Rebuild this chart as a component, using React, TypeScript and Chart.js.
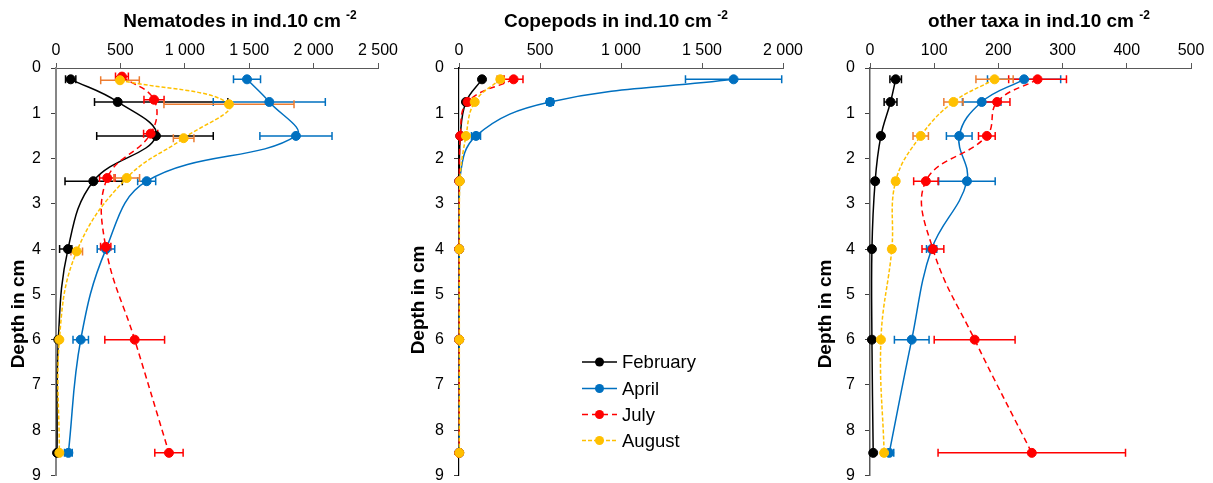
import React, { useEffect, useRef } from "react";
import { Chart, registerables } from "chart.js";

Chart.register(...registerables);

const FONT = "'Liberation Sans', Arial, Helvetica, sans-serif";

// Sampling depths in cm (layer mid-points)
const depths = [0.25, 0.75, 1.5, 2.5, 4, 6, 8.5];
const months = ["February", "April", "July", "August"];

// Nematodes (ind. 10 cm^-2); July and August are drawn slightly offset in depth
const nemDepthsJuly = [0.19, 0.7, 1.45, 2.43, 3.95, 6, 8.5];
const nemDepthsAugust = [0.27, 0.8, 1.55, 2.43, 4.05, 6, 8.5];
const nemFebruary = [114, 479, 776, 290, 93, 18, 8];
const nemFebruaryErrLow = [40, 180, 460, 220, 65, 0, 0];
const nemFebruaryErrHigh = [40, 855, 445, 225, 30, 0, 0];
const nemApril = [1483, 1656, 1863, 704, 388, 192, 96];
const nemAprilErr = [105, 435, 280, 70, 68, 60, 30];
const nemJuly = [512, 761, 735, 398, 386, 611, 877];
const nemJulyErr = [50, 78, 55, 60, 40, 232, 110];
const nemAugust = [497, 1343, 991, 549, 161, 26, 26];
const nemAugustErr = [150, 505, 80, 100, 45, 0, 0];

// Copepods (ind. 10 cm^-2)
const copFebruary = [142, 43, 8, 2, 1, 1, 1];
const copFebruaryErr = [0, 0, 0, 0, 0, 0, 0];
const copApril = [1695, 562, 105, 3, 1, 1, 1];
const copAprilErr = [297, 20, 28, 0, 0, 0, 0];
const copJuly = [337, 53, 8, 2, 1, 1, 1];
const copJulyErr = [58, 12, 0, 0, 0, 0, 0];
const copAugust = [255, 97, 43, 5, 2, 2, 2];
const copAugustErr = [20, 10, 8, 0, 0, 0, 0];

// Other taxa (ind. 10 cm^-2)
const othFebruary = [40, 32, 17, 8, 3, 3, 5];
const othFebruaryErr = [9, 10, 0, 0, 0, 0, 0];
const othApril = [240, 174, 139, 151, 96, 65, 30];
const othAprilErr = [57, 30, 20, 44, 8, 27, 7];
const othJuly = [261, 198, 182, 87, 98, 163, 252];
const othJulyErr = [45, 20, 13, 19, 17, 63, 146];
const othAugust = [194, 130, 79, 40, 34, 17, 22];
const othAugustErr = [29, 15, 12, 4, 4, 0, 4];

const seriesStyles = [
  { color: "#000000", bar: "#000000", dash: [] as number[] },
  { color: "#0070C0", bar: "#0070C0", dash: [] as number[] },
  { color: "#FF0000", bar: "#FF0000", dash: [6, 4] },
  { color: "#FFC000", bar: "#ED7D31", dash: [4, 2] },
];

type Series = { y: number[]; x: number[]; lo: number[]; hi: number[] };

type PanelSpec = {
  title: string;
  left: number;
  width: number;
  axisLeft: number;
  padRight: number;
  xMax: number;
  xStep: number;
  titleCenter: number;
  depthLabel: [number, number];
  yBorder: string;
  yBorderWidth: number;
  legend: boolean;
  series: Series[];
};

const panels: PanelSpec[] = [
  {
    title: "Nematodes in ind.10 cm",
    left: 0,
    width: 400,
    axisLeft: 56,
    padRight: 22,
    xMax: 2500,
    xStep: 500,
    titleCenter: 240,
    depthLabel: [19, 314],
    yBorder: "#868686",
    yBorderWidth: 2,
    legend: false,
    series: [
      { y: depths, x: nemFebruary, lo: nemFebruaryErrLow, hi: nemFebruaryErrHigh },
      { y: depths, x: nemApril, lo: nemAprilErr, hi: nemAprilErr },
      { y: nemDepthsJuly, x: nemJuly, lo: nemJulyErr, hi: nemJulyErr },
      { y: nemDepthsAugust, x: nemAugust, lo: nemAugustErr, hi: nemAugustErr },
    ],
  },
  {
    title: "Copepods in ind.10 cm",
    left: 400,
    width: 410,
    axisLeft: 59,
    padRight: 27,
    xMax: 2000,
    xStep: 500,
    titleCenter: 216,
    depthLabel: [19, 300],
    yBorder: "#000000",
    yBorderWidth: 1.2,
    legend: true,
    series: [
      { y: depths, x: copFebruary, lo: copFebruaryErr, hi: copFebruaryErr },
      { y: depths, x: copApril, lo: copAprilErr, hi: copAprilErr },
      { y: depths, x: copJuly, lo: copJulyErr, hi: copJulyErr },
      { y: depths, x: copAugust, lo: copAugustErr, hi: copAugustErr },
    ],
  },
  {
    title: "other taxa in ind.10 cm",
    left: 810,
    width: 403,
    axisLeft: 60,
    padRight: 22,
    xMax: 500,
    xStep: 100,
    titleCenter: 229,
    depthLabel: [16, 314],
    yBorder: "#595959",
    yBorderWidth: 1.5,
    legend: false,
    series: [
      { y: depths, x: othFebruary, lo: othFebruaryErr, hi: othFebruaryErr },
      { y: depths, x: othApril, lo: othAprilErr, hi: othAprilErr },
      { y: depths, x: othJuly, lo: othJulyErr, hi: othJulyErr },
      { y: depths, x: othAugust, lo: othAugustErr, hi: othAugustErr },
    ],
  },
];

const formatThousands = (v: number) =>
  String(v).replace(/\B(?=(\d{3})+(?!\d))/g, " ");

// Horizontal error bars with end caps, drawn beneath the lines and markers
const errorBarPlugin = {
  id: "errorBars",
  beforeDatasetsDraw(chart: any) {
    const { ctx } = chart;
    const xs = chart.scales.x;
    const ys = chart.scales.y;
    chart.data.datasets.forEach((ds: any) => {
      ds.data.forEach((p: any, i: number) => {
        const lo = ds.errLow[i] || 0;
        const hi = ds.errHigh[i] || 0;
        if (!lo && !hi) return;
        const py = ys.getPixelForValue(p.y);
        const x1 = xs.getPixelForValue(p.x - lo);
        const x2 = xs.getPixelForValue(p.x + hi);
        ctx.save();
        ctx.strokeStyle = ds.errColor;
        ctx.lineWidth = 1.5;
        ctx.setLineDash([]);
        ctx.beginPath();
        ctx.moveTo(x1, py);
        ctx.lineTo(x2, py);
        ctx.moveTo(x1, py - 4);
        ctx.lineTo(x1, py + 4);
        ctx.moveTo(x2, py - 4);
        ctx.lineTo(x2, py + 4);
        ctx.stroke();
        ctx.restore();
      });
    });
  },
};

function makeDecorPlugin(spec: PanelSpec) {
  return {
    id: "decor",
    afterDraw(chart: any) {
      const { ctx } = chart;
      ctx.save();
      // Title with superscript exponent
      ctx.fillStyle = "#000";
      ctx.textBaseline = "alphabetic";
      ctx.textAlign = "left";
      const main = spec.title + " ";
      const sup = "-2";
      ctx.font = `bold 19px ${FONT}`;
      const wMain = ctx.measureText(main).width;
      ctx.font = `bold 12px ${FONT}`;
      const wSup = ctx.measureText(sup).width;
      const start = spec.titleCenter - (wMain + wSup) / 2;
      ctx.font = `bold 19px ${FONT}`;
      ctx.fillText(main, start, 27);
      ctx.font = `bold 12px ${FONT}`;
      ctx.fillText(sup, start + wMain, 19);

      // Vertical axis title
      ctx.save();
      ctx.translate(spec.depthLabel[0], spec.depthLabel[1]);
      ctx.rotate(-Math.PI / 2);
      ctx.textAlign = "center";
      ctx.textBaseline = "middle";
      ctx.font = `bold 19px ${FONT}`;
      ctx.fillText("Depth in cm", 0, 0);
      ctx.restore();

      if (spec.legend) {
        const rows = [362, 388.5, 414.5, 440.5];
        months.forEach((m, i) => {
          const st = seriesStyles[i];
          const y = rows[i];
          ctx.save();
          ctx.strokeStyle = st.color;
          ctx.lineWidth = 1.5;
          ctx.setLineDash(st.dash);
          ctx.beginPath();
          ctx.moveTo(182, y);
          ctx.lineTo(217, y);
          ctx.stroke();
          ctx.setLineDash([]);
          ctx.fillStyle = st.color;
          ctx.beginPath();
          ctx.arc(199.5, y, 4.5, 0, Math.PI * 2);
          ctx.fill();
          ctx.restore();
          ctx.fillStyle = "#000";
          ctx.textAlign = "left";
          ctx.textBaseline = "middle";
          ctx.font = `18.5px ${FONT}`;
          ctx.fillText(m, 222, y + 1);
        });
      }
      ctx.restore();
    },
  };
}

function buildConfig(spec: PanelSpec): any {
  const datasets = spec.series.map((s, i) => {
    const st = seriesStyles[i];
    return {
      label: months[i],
      data: s.x.map((v, k) => ({ x: v, y: s.y[k] })),
      showLine: true,
      borderColor: st.color,
      backgroundColor: st.color,
      borderWidth: 1.5,
      borderDash: st.dash,
      pointRadius: 4.5,
      pointHoverRadius: 4.5,
      pointBorderWidth: 1,
      pointBackgroundColor: st.color,
      pointBorderColor: st.color,
      tension: 0.4,
      clip: false,
      order: 3 - i,
      errLow: s.lo,
      errHigh: s.hi,
      errColor: st.bar,
    };
  });

  return {
    type: "scatter",
    data: { datasets },
    options: {
      animation: false,
      responsive: false,
      devicePixelRatio: 1,
      events: [],
      layout: {
        autoPadding: false,
        padding: { left: 0, right: spec.padRight, top: 0, bottom: 7.5 },
      },
      plugins: {
        legend: { display: false },
        title: { display: false },
        tooltip: { enabled: false },
      },
      scales: {
        x: {
          type: "linear",
          position: "top",
          min: 0,
          max: spec.xMax,
          ticks: {
            stepSize: spec.xStep,
            autoSkip: false,
            maxRotation: 0,
            padding: 3,
            color: "#000",
            font: { family: FONT, size: 16 },
            callback: (v: number) => formatThousands(v),
          },
          grid: {
            drawOnChartArea: false,
            drawTicks: true,
            tickLength: 5,
            color: "#595959",
          },
          border: { color: "#595959", width: 1 },
          afterFit(scale: any) {
            scale.height = 68;
            scale.paddingLeft = 0;
            scale.paddingRight = 0;
          },
        },
        y: {
          type: "linear",
          position: "left",
          reverse: true,
          min: 0,
          max: 9,
          ticks: {
            stepSize: 1,
            autoSkip: false,
            padding: 10,
            color: "#000",
            font: { family: FONT, size: 16 },
          },
          grid: {
            drawOnChartArea: false,
            drawTicks: true,
            tickLength: 5,
            color: "#404040",
          },
          border: { color: spec.yBorder, width: spec.yBorderWidth },
          afterFit(scale: any) {
            scale.width = spec.axisLeft;
            scale.paddingTop = 0;
            scale.paddingBottom = 0;
          },
        },
      },
    },
    plugins: [errorBarPlugin, makeDecorPlugin(spec)],
  };
}

function Panel({ spec }: { spec: PanelSpec }) {
  const ref = useRef<HTMLCanvasElement>(null);
  useEffect(() => {
    const chart = new Chart(ref.current as HTMLCanvasElement, buildConfig(spec));
    return () => chart.destroy();
  }, [spec]);
  return (
    <canvas
      ref={ref}
      width={spec.width}
      height={483}
      style={{
        position: "absolute",
        left: spec.left,
        top: 0,
        width: spec.width,
        height: 483,
      }}
    />
  );
}

export default function App() {
  return (
    <div
      style={{
        position: "absolute",
        left: 0,
        top: 0,
        width: 1213,
        height: 483,
        background: "#fff",
        overflow: "hidden",
      }}
    >
      {panels.map((p) => (
        <Panel key={p.title} spec={p} />
      ))}
    </div>
  );
}
